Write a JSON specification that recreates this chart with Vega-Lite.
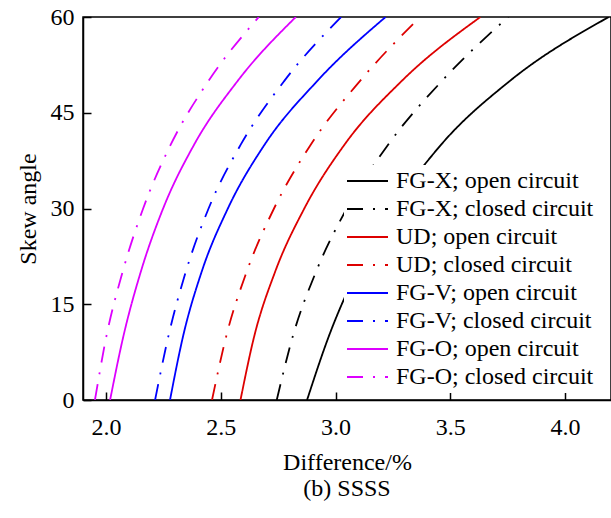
{
  "$schema": "https://vega.github.io/schema/vega-lite/v6.json",
  "width": 528,
  "height": 383,
  "autosize": {"type": "none"},
  "padding": {"left": 83, "top": 17, "right": 0, "bottom": 118},
  "background": "white",
  "title": {"text": "(b) SSSS", "orient": "bottom", "font": "Liberation Serif", "fontSize": 24, "fontWeight": "normal", "color": "black", "offset": 3, "anchor": "middle"},
  "config": {
    "view": {"stroke": "black", "strokeWidth": 1.5},
    "font": "Liberation Serif"
  },
  "data": {"values": [
    {"s": "FG-X; open circuit", "angle": 0, "diff": 2.876},
    {"s": "FG-X; open circuit", "angle": 10, "diff": 2.971},
    {"s": "FG-X; open circuit", "angle": 20, "diff": 3.091},
    {"s": "FG-X; open circuit", "angle": 30, "diff": 3.251},
    {"s": "FG-X; open circuit", "angle": 40, "diff": 3.46},
    {"s": "FG-X; open circuit", "angle": 50, "diff": 3.76},
    {"s": "FG-X; open circuit", "angle": 60, "diff": 4.19},
    {"s": "FG-X; closed circuit", "angle": 0, "diff": 2.744},
    {"s": "FG-X; closed circuit", "angle": 10, "diff": 2.814},
    {"s": "FG-X; closed circuit", "angle": 20, "diff": 2.914},
    {"s": "FG-X; closed circuit", "angle": 30, "diff": 3.049},
    {"s": "FG-X; closed circuit", "angle": 40, "diff": 3.229},
    {"s": "FG-X; closed circuit", "angle": 50, "diff": 3.464},
    {"s": "FG-X; closed circuit", "angle": 60, "diff": 3.752},
    {"s": "UD; open circuit", "angle": 0, "diff": 2.586},
    {"s": "UD; open circuit", "angle": 10, "diff": 2.646},
    {"s": "UD; open circuit", "angle": 20, "diff": 2.736},
    {"s": "UD; open circuit", "angle": 30, "diff": 2.864},
    {"s": "UD; open circuit", "angle": 40, "diff": 3.039},
    {"s": "UD; open circuit", "angle": 50, "diff": 3.289},
    {"s": "UD; open circuit", "angle": 60, "diff": 3.631},
    {"s": "UD; closed circuit", "angle": 0, "diff": 2.462},
    {"s": "UD; closed circuit", "angle": 10, "diff": 2.524},
    {"s": "UD; closed circuit", "angle": 20, "diff": 2.612},
    {"s": "UD; closed circuit", "angle": 30, "diff": 2.732},
    {"s": "UD; closed circuit", "angle": 40, "diff": 2.892},
    {"s": "UD; closed circuit", "angle": 50, "diff": 3.107},
    {"s": "UD; closed circuit", "angle": 60, "diff": 3.368},
    {"s": "FG-V; open circuit", "angle": 0, "diff": 2.279},
    {"s": "FG-V; open circuit", "angle": 10, "diff": 2.336},
    {"s": "FG-V; open circuit", "angle": 20, "diff": 2.416},
    {"s": "FG-V; open circuit", "angle": 30, "diff": 2.531},
    {"s": "FG-V; open circuit", "angle": 40, "diff": 2.691},
    {"s": "FG-V; open circuit", "angle": 50, "diff": 2.921},
    {"s": "FG-V; open circuit", "angle": 60, "diff": 3.218},
    {"s": "FG-V; closed circuit", "angle": 0, "diff": 2.214},
    {"s": "FG-V; closed circuit", "angle": 10, "diff": 2.272},
    {"s": "FG-V; closed circuit", "angle": 20, "diff": 2.347},
    {"s": "FG-V; closed circuit", "angle": 30, "diff": 2.447},
    {"s": "FG-V; closed circuit", "angle": 40, "diff": 2.587},
    {"s": "FG-V; closed circuit", "angle": 50, "diff": 2.777},
    {"s": "FG-V; closed circuit", "angle": 60, "diff": 3.024},
    {"s": "FG-O; open circuit", "angle": 0, "diff": 2.018},
    {"s": "FG-O; open circuit", "angle": 10, "diff": 2.076},
    {"s": "FG-O; open circuit", "angle": 20, "diff": 2.151},
    {"s": "FG-O; open circuit", "angle": 30, "diff": 2.249},
    {"s": "FG-O; open circuit", "angle": 40, "diff": 2.384},
    {"s": "FG-O; open circuit", "angle": 50, "diff": 2.574},
    {"s": "FG-O; open circuit", "angle": 60, "diff": 2.827},
    {"s": "FG-O; closed circuit", "angle": 0, "diff": 1.952},
    {"s": "FG-O; closed circuit", "angle": 10, "diff": 2.002},
    {"s": "FG-O; closed circuit", "angle": 20, "diff": 2.072},
    {"s": "FG-O; closed circuit", "angle": 30, "diff": 2.162},
    {"s": "FG-O; closed circuit", "angle": 40, "diff": 2.282},
    {"s": "FG-O; closed circuit", "angle": 50, "diff": 2.447},
    {"s": "FG-O; closed circuit", "angle": 60, "diff": 2.666}
  ]},
  "mark": {"type": "line", "interpolate": "monotone", "strokeWidth": 1.8, "clip": true},
  "encoding": {
    "x": {
      "field": "diff", "type": "quantitative",
      "scale": {"domain": [1.9, 4.2], "nice": false, "zero": false},
      "axis": {
        "title": "Difference/%", "values": [2.0, 2.5, 3.0, 3.5, 4.0], "format": ".1f",
        "grid": false, "domain": true, "domainColor": "black", "domainWidth": 1.5,
        "tickColor": "black", "tickWidth": 1.5, "tickSize": -8, "labelPadding": 23,
        "labelFont": "Liberation Serif", "labelFontSize": 24, "labelColor": "black",
        "titleFont": "Liberation Serif", "titleFontSize": 24, "titleFontWeight": "normal", "titleColor": "black", "titlePadding": 11
      }
    },
    "y": {
      "field": "angle", "type": "quantitative",
      "scale": {"domain": [0, 60], "nice": false},
      "axis": {
        "title": "Skew angle", "values": [0, 15, 30, 45, 60],
        "grid": false, "domain": true, "domainColor": "black", "domainWidth": 1.5,
        "tickColor": "black", "tickWidth": 1.5, "tickSize": -8, "labelPadding": 17,
        "labelFont": "Liberation Serif", "labelFontSize": 24, "labelColor": "black",
        "titleFont": "Liberation Serif", "titleFontSize": 24, "titleFontWeight": "normal", "titleColor": "black", "titlePadding": 10
      }
    },
    "order": {"field": "angle", "type": "quantitative"},
    "color": {
      "field": "s", "type": "nominal",
      "scale": {
        "domain": ["FG-X; open circuit", "FG-X; closed circuit", "UD; open circuit", "UD; closed circuit", "FG-V; open circuit", "FG-V; closed circuit", "FG-O; open circuit", "FG-O; closed circuit"],
        "range": ["#000000", "#000000", "#dd0000", "#dd0000", "#0000ff", "#0000ff", "#dd00ff", "#dd00ff"]
      },
      "legend": {
        "title": null, "orient": "none", "legendX": 261, "legendY": 148,
        "fillColor": "white", "padding": 2, "symbolType": "stroke", "symbolSize": 1681,
        "symbolStrokeWidth": 1.8, "labelFont": "Liberation Serif", "labelFontSize": 24,
        "labelColor": "black", "labelOffset": 7, "rowPadding": 0, "clipHeight": 28, "labelLimit": 400
      }
    },
    "strokeDash": {
      "field": "s", "type": "nominal",
      "scale": {
        "domain": ["FG-X; open circuit", "FG-X; closed circuit", "UD; open circuit", "UD; closed circuit", "FG-V; open circuit", "FG-V; closed circuit", "FG-O; open circuit", "FG-O; closed circuit"],
        "range": [[1, 0], [16, 10, 2, 10], [1, 0], [16, 10, 2, 10], [1, 0], [16, 10, 2, 10], [1, 0], [16, 10, 2, 10]]
      },
      "legend": {
        "title": null, "orient": "none", "legendX": 261, "legendY": 148,
        "fillColor": "white", "padding": 2, "symbolType": "stroke", "symbolSize": 1681,
        "symbolStrokeWidth": 1.8, "labelFont": "Liberation Serif", "labelFontSize": 24,
        "labelColor": "black", "labelOffset": 7, "rowPadding": 0, "clipHeight": 28, "labelLimit": 400
      }
    }
  }
}
